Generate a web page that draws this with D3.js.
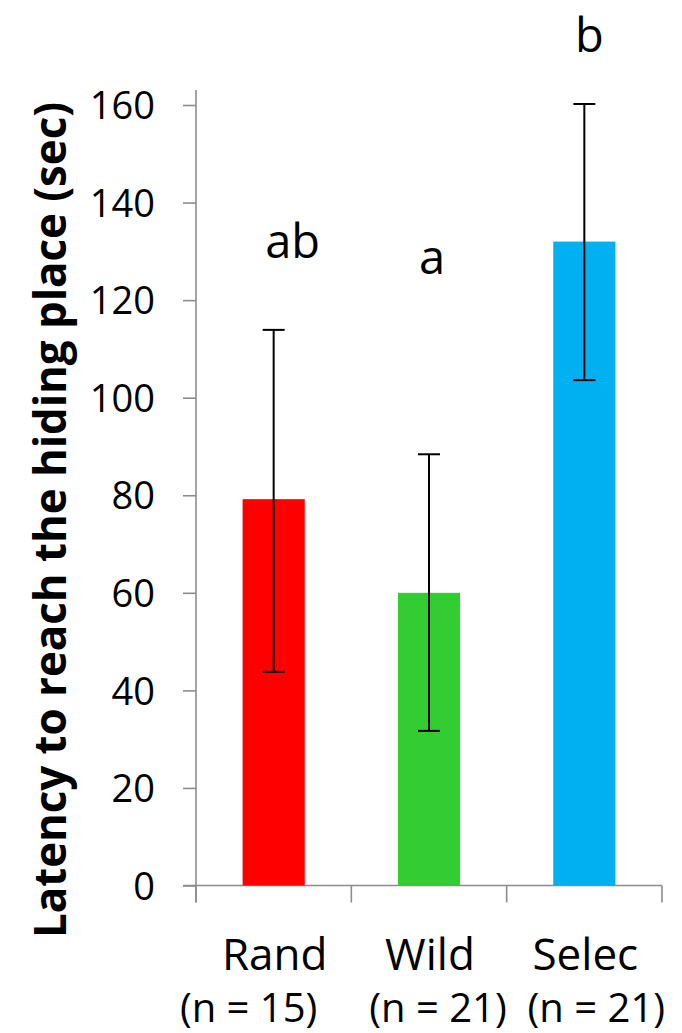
<!DOCTYPE html>
<html>
<head>
<meta charset="utf-8">
<script src="https://cdn.jsdelivr.net/npm/d3@7"></script>
<style>
html,body{margin:0;padding:0;background:#fff;}
svg{display:block;}
text{font-family:"Open Sans",sans-serif;fill:#000;}
</style>
</head>
<body>
<svg id="c" width="682" height="1033"></svg>
<script>
const categories = ["Rand", "Wild", "Selec"];
const sampleSizes = ["(n = 15)", "(n = 21)", "(n = 21)"];
const means = [79.2, 60.0, 132.0];
const errLow = [43.8, 31.7, 103.6];
const errHigh = [113.9, 88.4, 160.2];
const sigLetters = ["ab", "a", "b"];
const yTicks = [0, 20, 40, 60, 80, 100, 120, 140, 160];
const colors = ["#FF0000", "#33CC33", "#00B0F0"];
const yTitle = "Latency to reach the hiding place (sec)";

const svg = d3.select("#c");
const x0 = 196, x1 = 662, yBot = 885.5, yTop = 105;

const x = d3.scaleBand().domain(categories).range([x0, x1]).paddingInner(0.6).paddingOuter(0.3);
const y = d3.scaleLinear().domain([0, 160]).range([yBot, yTop]);

// Y axis
const yAxis = d3.axisLeft(y).tickValues(yTicks).tickSize(13).tickPadding(28).tickSizeOuter(0);
const gy = svg.append("g").attr("transform", `translate(${x0},0)`).call(yAxis);
gy.select(".domain").remove();
gy.selectAll(".tick line").attr("stroke", "#8c8c8c").attr("stroke-width", 1.6);
gy.selectAll(".tick text").style("font-size", "38px").attr("fill", "#1a1a1a").attr("dy", "0.36em");
svg.append("line").attr("x1", x0).attr("x2", x0).attr("y1", 90).attr("y2", yBot + 17)
  .attr("stroke", "#8c8c8c").attr("stroke-width", 1.6);

// X axis line and category boundary ticks
svg.append("line").attr("x1", 183).attr("x2", x1).attr("y1", yBot).attr("y2", yBot)
  .attr("stroke", "#8c8c8c").attr("stroke-width", 1.6);
const step = x.step();
const bounds = d3.range(categories.length + 1).map(i => x0 + i * step);
svg.selectAll(".bt").data(bounds).join("line")
  .attr("x1", d => d).attr("x2", d => d).attr("y1", yBot).attr("y2", yBot + 17)
  .attr("stroke", "#8c8c8c").attr("stroke-width", 1.6);

// Bars
svg.selectAll(".bar").data(categories).join("rect")
  .attr("x", d => x(d)).attr("width", x.bandwidth())
  .attr("y", (d, i) => y(means[i])).attr("height", (d, i) => yBot - y(means[i]))
  .attr("fill", (d, i) => colors[i]);

// Error bars
const cx = d => x(d) + x.bandwidth() / 2;
const eg = svg.append("g").attr("stroke", "#000").attr("stroke-width", 2);
categories.forEach((c, i) => {
  eg.append("line").attr("x1", cx(c)).attr("x2", cx(c)).attr("y1", y(errLow[i])).attr("y2", y(errHigh[i]));
  [errLow[i], errHigh[i]].forEach(v => {
    eg.append("line").attr("x1", cx(c) - 11).attr("x2", cx(c) + 11).attr("y1", y(v)).attr("y2", y(v));
  });
});

// Significance letters
const letterOffsets = [19, 3, 5];
svg.selectAll(".sig").data(categories).join("text")
  .attr("x", (d, i) => cx(d) + letterOffsets[i])
  .attr("y", (d, i) => y(errHigh[i]) - [72, 180, 52][i])
  .attr("text-anchor", "middle").style("font-size", "47px")
  .text((d, i) => sigLetters[i]);

// Category labels
svg.selectAll(".cat").data(categories).join("text")
  .attr("x", d => cx(d) + 1).attr("y", 970)
  .attr("text-anchor", "middle").style("font-size", "44px").attr("fill", "#111")
  .text(d => d);
const nOffsets = [-25, 9, 12];
svg.selectAll(".nlab").data(categories).join("text")
  .attr("x", (d, i) => cx(d) + nOffsets[i]).attr("y", 1022)
  .attr("text-anchor", "middle").style("font-size", "40px").attr("fill", "#111")
  .text((d, i) => sampleSizes[i]);

// Y title
svg.append("text")
  .attr("transform", "translate(66,520) rotate(-90)")
  .attr("text-anchor", "middle").style("font-size", "45px").style("font-weight", "bold")
  .attr("textLength", 836).attr("lengthAdjust", "spacingAndGlyphs")
  .text(yTitle);
</script>
</body>
</html>
